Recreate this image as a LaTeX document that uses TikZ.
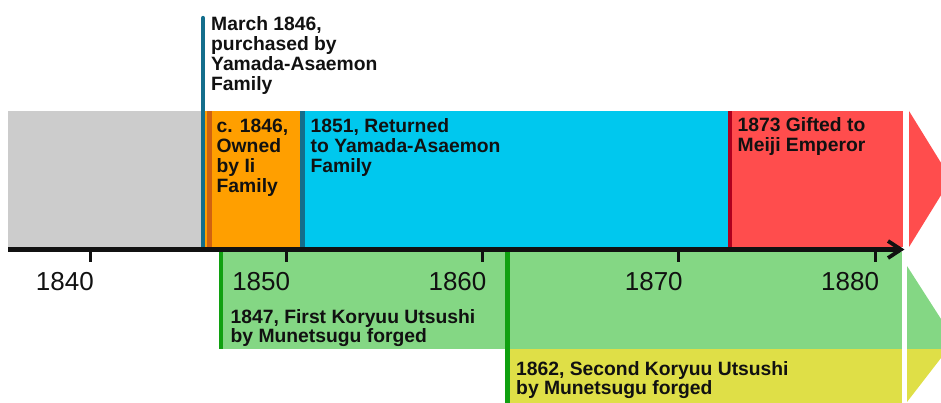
\documentclass[tikz,border=0pt]{standalone}
\usepackage{fontspec}
\setmainfont{Liberation Sans}
\definecolor{cgray}{RGB}{204,204,204}
\definecolor{cblue}{RGB}{20,110,140}
\definecolor{corange}{RGB}{255,159,0}
\definecolor{cdorange}{RGB}{208,98,16}
\definecolor{ccyan}{RGB}{0,200,238}
\definecolor{cred}{RGB}{255,77,77}
\definecolor{cdred}{RGB}{176,0,30}
\definecolor{cgreen}{RGB}{132,215,132}
\definecolor{cdgreen}{RGB}{16,160,16}
\definecolor{cyellow}{RGB}{223,223,71}
\definecolor{ctext}{RGB}{17,17,17}
\newcommand{\evtext}[1]{\begin{tabular}[t]{@{}l@{}}#1\end{tabular}}
\begin{document}
\begin{tikzpicture}[x=1pt,y=-1pt,
  toplabel/.style={anchor=base west, inner sep=0pt, text=ctext, font=\bfseries\fontsize{19.3}{20}\selectfont},
  botlabel/.style={anchor=base west, inner sep=0pt, text=ctext, font=\bfseries\fontsize{19.3}{18.6}\selectfont},
  yearlabel/.style={anchor=base east, inner sep=0pt, text=ctext, font=\fontsize{26}{28}\selectfont},
  tickmark/.style={line width=3pt, ctext},
  axisline/.style={line width=4.5pt, ctext}]
\useasboundingbox (0,0) rectangle (941,403);
\clip (0,0) rectangle (941,403);
% top bars
\fill[cgray] (8,111) rectangle (202,247);
\fill[corange] (205,111) rectangle (300,247);
\fill[cdorange] (206.5,111) rectangle (211.5,247);
\fill[ccyan] (300,111) rectangle (728,247);
\fill[cblue] (300,111) rectangle (305,247);
\fill[cred] (728,111) rectangle (903,247);
\fill[cdred] (728,111) rectangle (732,247);
\fill[cred] (909,111) -- (951,179) -- (909,247) -- cycle;
% bottom bars
\fill[cgreen] (219,252) rectangle (902,349);
\fill[cdgreen] (219,252) rectangle (223,349);
\fill[cyellow] (505,349) rectangle (902,403);
\fill[cdgreen] (505,252) rectangle (510,403);
\fill[cgreen] (907,266) -- (941,319) -- (941,349) -- (907,349) -- cycle;
\fill[cyellow] (907,349) -- (941,349) -- (941,358) -- (907,402) -- cycle;
% March 1846 marker
\coordinate (mtop) at (203,18);
\coordinate (mbot) at (203,247);
\draw[line width=4.3pt, cblue, line cap=round] (mtop) -- (mbot);
% axis
\coordinate (axstart) at (8,249.5);
\coordinate (axend) at (901,249.5);
\draw[axisline] (axstart) -- (axend);
\draw[line width=3.8pt, ctext, line join=miter] (888,241) -- (axend) -- (888,258);
% ticks and years
\foreach \yr/\xx in {1840/90,1850/286.3,1860/482.6,1870/678.9,1880/875.2}{
  \coordinate (t\yr) at (\xx,251);
  \coordinate (b\yr) at (\xx,262);
  \draw[tickmark] (t\yr) -- (b\yr);
  \node[yearlabel] (y\yr) at (\xx+4,290) {\yr};
}
% labels
\node[toplabel] (lmarch) at (211,30.7) {\evtext{March 1846,\\purchased by\\Yamada-Asaemon\\Family}};
\node[toplabel] (lii) at (216.5,133) {\evtext{c. 1846,\\Owned\\by Ii\\Family}};
\node[toplabel] (lret) at (310.5,133) {\evtext{1851, Returned\\to Yamada-Asaemon\\Family}};
\node[toplabel] (lmeiji) at (737.5,132) {\evtext{1873 Gifted to\\Meiji Emperor}};
\node[botlabel] (lfirst) at (230.5,323.3) {\evtext{1847, First Koryuu Utsushi\\by Munetsugu forged}};
\node[botlabel] (lsecond) at (516,375) {\evtext{1862, Second Koryuu Utsushi\\by Munetsugu forged}};
\end{tikzpicture}
\end{document}
